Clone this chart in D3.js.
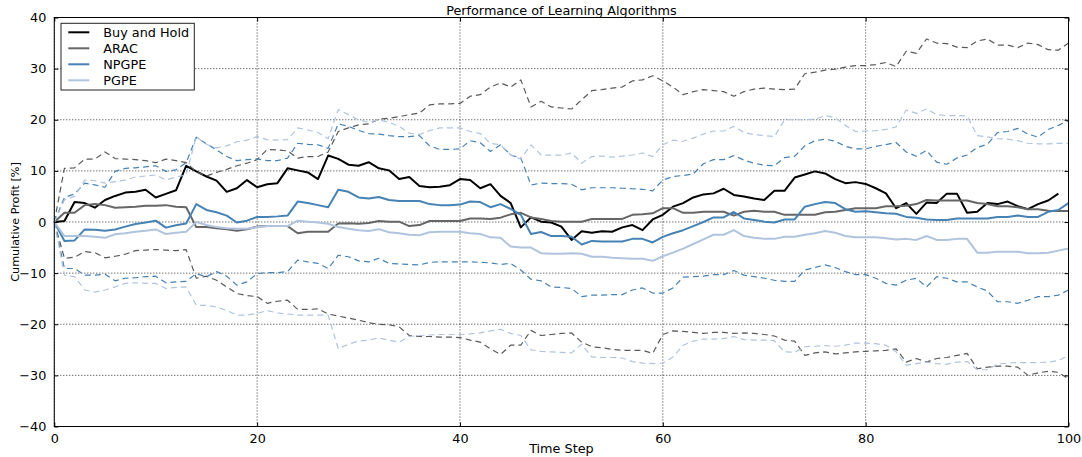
<!DOCTYPE html>
<html>
<head>
<meta charset="utf-8">
<script src="https://cdn.jsdelivr.net/npm/d3@7/dist/d3.min.js"></script>
<style>
  html, body { margin: 0; padding: 0; background: #fff; }
  svg { display: block; font-family: "DejaVu Sans", sans-serif; }
</style>
</head>
<body>
<svg id="chart" width="1082" height="457"></svg>
<script>
// ---- data ----
const title = "Performance of Learning Algorithms";
const xLabel = "Time Step";
const yLabel = "Cumulative Profit [%]";
const xTicks = [0, 20, 40, 60, 80, 100];
const yTicks = [-40, -30, -20, -10, 0, 10, 20, 30, 40];
const seriesNames = ["Buy and Hold", "ARAC", "NPGPE", "PGPE"];

const buyHold = [0,0.2,3.9,3.7,2.8,4.3,5.1,5.75,5.9,6.3,4.8,5.5,6.2,11.0,9.9,8.9,8.1,5.9,6.6,8.2,
  6.8,7.4,7.6,10.5,10.1,9.7,8.4,13.0,12.35,11.2,11.0,11.7,10.5,10.1,8.4,8.8,7.06,6.8,6.9,7.2,
  8.4,8.2,6.6,7.4,5.1,3.7,-1.05,0.9,0.07,-0.1,-0.9,-3.5,-1.8,-2.1,-1.8,-1.9,-1.05,-0.6,-1.6,0.5,
  1.4,3.0,3.7,4.8,5.4,5.6,6.5,5.3,5.0,4.6,4.3,6.1,6.1,8.7,9.3,9.9,9.5,8.4,7.6,7.8,
  7.45,6.6,5.6,2.7,3.7,1.6,3.8,3.7,5.55,5.55,1.8,2.0,3.7,3.5,4.0,3.1,2.5,3.5,4.2,5.55];

const arac = [0,1.8,1.8,3.3,3.5,3.3,2.8,2.9,3.0,3.2,3.2,3.3,3.0,2.9,-1.0,-1.0,-1.2,-1.4,-1.7,-1.4,
  -0.9,-0.8,-0.8,-0.8,-2.2,-1.9,-1.9,-1.9,-0.3,-0.25,-0.35,-0.2,0.2,0.06,0.06,-0.8,-0.6,0.2,0.2,0.2,
  0.2,0.7,0.7,0.6,0.85,1.5,1.8,0.9,0.6,0.2,0.06,0.06,0.06,0.6,0.6,0.6,0.6,1.4,1.5,1.7,
  2.7,2.7,1.8,1.8,2.0,2.0,2.0,1.25,2.0,2.2,2.0,2.0,1.4,1.4,1.4,1.4,1.9,2.0,2.35,2.7,
  2.7,2.7,3.1,3.1,3.2,3.5,4.3,4.2,4.2,4.2,4.2,3.7,3.5,3.1,3.1,2.9,2.5,2.5,2.2,2.15,2.15];
const aracUpper = [0,10.5,10.6,12.3,12.3,13.7,12.4,12.3,12.2,12.0,11.6,12.3,12.0,11.6,9.8,9.0,9.7,10.3,11.0,11.5,
  12.2,14.2,14.1,13.9,12.5,12.8,12.8,13.7,17.7,18.4,19.0,19.2,20.1,20.3,20.6,21.0,21.3,22.9,23.1,23.1,
  23.2,24.6,24.9,26.4,27.2,26.4,27.8,22.5,23.6,22.5,22.3,22.1,23.9,25.7,25.9,26.2,26.4,27.6,27.8,28.6,
  27.6,26.4,24.9,25.5,25.9,25.7,25.5,24.6,25.5,26.0,26.2,26.0,25.9,26.0,29.0,29.3,29.7,29.9,30.3,30.6,
  30.6,30.8,31.2,30.4,33.4,33.0,35.8,35.0,34.9,34.2,34.1,35.4,35.8,34.6,34.6,34.1,35.0,34.7,33.7,33.6,35.0];
const aracLower = [0,-7.1,-6.9,-5.8,-6.0,-7.0,-6.7,-6.3,-5.6,-5.5,-5.4,-5.5,-5.6,-5.4,-11.0,-10.6,-11.4,-12.7,-14.0,-14.4,
  -14.6,-15.9,-15.5,-15.3,-17.1,-17.1,-17.0,-18.0,-18.4,-18.8,-19.2,-19.7,-20.0,-20.1,-20.5,-22.2,-22.4,-22.4,-22.5,-22.5,
  -22.6,-23.1,-23.5,-24.8,-25.9,-24.1,-24.1,-21.2,-22.2,-22.0,-21.8,-21.7,-23.5,-24.4,-24.6,-24.9,-25.1,-25.1,-25.1,-25.7,
  -22.0,-21.3,-21.4,-21.6,-21.8,-21.6,-21.6,-21.8,-21.7,-21.8,-22.0,-22.3,-23.1,-23.3,-26.1,-25.6,-25.4,-25.8,-25.6,-25.4,
  -25.3,-25.2,-25.1,-24.8,-27.4,-26.7,-27.4,-26.7,-26.5,-26.1,-25.7,-28.7,-28.4,-28.2,-28.2,-28.4,-30.0,-29.5,-29.2,-29.4,-30.7];

const npgpe = [0,-3.7,-3.6,-1.45,-1.5,-1.7,-1.45,-0.9,-0.4,-0.1,0.26,-1.1,-0.65,-0.3,3.5,2.35,1.9,1.25,-0.1,0.26,
  1.0,1.0,1.1,1.25,4.0,3.7,3.3,2.9,6.3,5.9,4.8,4.6,4.9,4.3,4.1,4.1,4.1,3.5,3.3,3.3,
  3.4,4.0,3.9,2.9,3.5,2.55,1.4,-2.35,-1.95,-2.75,-2.75,-2.9,-4.4,-3.7,-3.8,-3.8,-3.8,-3.3,-3.3,-4.0,
  -2.9,-2.2,-1.6,-0.8,0.0,0.9,0.9,1.96,0.7,0.4,0.07,-0.1,0.5,0.5,3.0,3.5,3.9,3.7,2.5,2.0,
  2.1,1.9,1.7,1.6,1.0,0.85,0.5,0.4,0.4,0.7,0.7,0.7,0.7,1.0,1.0,1.25,1.0,1.0,2.0,2.35,3.7];
const npgpeUpper = [0,4.8,5.5,7.6,7.25,6.8,9.9,10.5,10.6,10.8,11.0,9.9,10.2,11.6,16.6,15.3,14.1,12.8,12.0,12.2,
  12.35,12.0,12.0,12.5,15.4,15.2,15.1,14.4,19.2,18.7,17.9,17.3,17.2,16.9,16.7,16.7,16.9,14.9,14.2,14.2,
  14.3,15.9,15.5,13.8,15.1,13.1,12.5,7.25,7.6,7.5,7.5,7.4,6.3,6.7,6.7,6.7,6.6,6.5,6.4,6.1,
  8.2,8.9,9.1,9.4,11.4,12.2,12.2,13.0,12.1,11.5,11.1,11.0,12.6,12.85,14.9,15.9,16.2,15.8,14.8,14.3,
  14.3,14.8,15.15,15.55,13.7,12.85,14.0,11.7,11.3,12.5,13.1,14.6,15.2,17.5,17.7,18.3,17.2,16.6,18.1,18.9,19.8];
const npgpeLower = [0,-9.1,-9.1,-10.4,-10.4,-10.2,-11.5,-11.0,-10.9,-10.7,-10.6,-11.9,-11.7,-11.6,-10.1,-10.7,-9.7,-10.6,-12.35,-11.7,
  -10.1,-9.9,-9.9,-9.7,-7.45,-7.8,-8.1,-9.1,-6.5,-6.8,-7.6,-7.8,-7.1,-8.1,-8.2,-8.3,-8.4,-7.9,-7.8,-7.8,
  -7.8,-7.8,-7.9,-8.0,-8.3,-8.1,-9.4,-11.2,-11.5,-12.7,-12.8,-13.0,-14.6,-14.3,-14.3,-14.2,-14.2,-13.3,-12.9,-13.9,
  -13.9,-12.9,-10.8,-10.7,-10.6,-10.3,-10.3,-9.5,-10.4,-10.7,-11.0,-11.4,-11.6,-11.6,-9.4,-8.9,-8.4,-8.9,-9.7,-10.3,
  -10.3,-11.0,-12.0,-12.35,-11.4,-11.0,-12.7,-10.7,-11.0,-11.7,-11.7,-12.7,-13.5,-15.6,-15.6,-15.9,-15.3,-14.6,-14.6,-14.3,-13.3];

const pgpe = [0,-2.75,-2.75,-2.75,-2.9,-3.1,-2.4,-2.2,-1.9,-1.7,-1.45,-2.35,-2.1,-1.9,0,-0.6,-1.0,-1.2,-1.3,-1.3,
  -1.0,-0.8,-0.8,-0.8,0.26,0.06,-0.1,-0.35,-1.0,-1.3,-1.6,-1.75,-1.4,-2.0,-2.2,-2.5,-2.6,-2.0,-1.9,-1.9,
  -1.9,-2.2,-2.35,-3.0,-3.1,-4.8,-5.0,-5.0,-6.1,-6.2,-6.2,-6.1,-6.2,-6.8,-6.8,-7.0,-7.1,-7.2,-7.2,-7.6,
  -6.7,-6.0,-5.2,-4.3,-3.4,-2.5,-2.5,-1.6,-2.75,-3.1,-3.3,-3.3,-2.9,-2.9,-2.5,-2.2,-1.75,-2.1,-2.75,-3.0,
  -3.0,-3.0,-3.2,-3.4,-3.3,-3.5,-2.75,-3.5,-3.5,-3.3,-3.3,-6.0,-6.0,-5.8,-5.8,-5.8,-6.1,-6.1,-6.0,-5.6,-5.2];
const pgpeUpper = [0,4.3,5.0,8.2,8.1,7.6,7.9,8.2,8.8,9.0,9.2,8.2,8.8,9.2,16.7,15.2,14.5,14.9,15.7,16.0,
  16.7,16.1,16.0,16.1,18.4,18.0,17.5,16.3,22.0,21.0,20.0,19.5,20.0,19.5,18.7,17.4,17.1,17.9,18.4,18.4,
  18.4,17.7,17.3,15.4,15.1,13.1,12.3,15.1,13.1,13.1,13.1,13.5,11.5,12.8,12.9,12.7,12.9,13.1,13.5,12.8,
  15.1,16.0,15.8,16.4,17.2,17.8,17.8,18.7,17.5,17.1,16.9,16.7,20.0,20.0,20.0,20.1,20.8,20.4,18.9,17.7,
  17.8,17.85,18.1,18.6,21.9,21.25,22.1,21.0,20.8,20.8,20.75,16.9,16.65,16.3,16.2,15.9,15.4,15.3,15.3,15.4,15.35];
const pgpeLower = [0,-10.4,-10.7,-13.3,-13.7,-13.3,-12.7,-12.0,-11.9,-12.0,-12.0,-13.0,-12.8,-12.7,-16.3,-16.3,-16.65,-17.3,-18.2,-18.2,
  -17.9,-17.3,-17.8,-18.0,-18.2,-18.2,-18.2,-18.2,-24.8,-23.9,-23.3,-23.1,-22.7,-23.1,-23.5,-22.4,-22.2,-22.1,-22.0,-22.0,
  -22.0,-21.9,-21.7,-21.3,-21.0,-21.8,-22.2,-25.0,-25.3,-25.4,-25.5,-25.6,-23.9,-26.4,-26.5,-26.5,-26.6,-27.3,-27.6,-27.7,
  -27.6,-26.4,-24.1,-23.3,-22.9,-22.9,-22.8,-22.4,-23.0,-23.1,-23.1,-23.2,-25.4,-25.5,-24.4,-24.3,-24.2,-24.3,-24.1,-23.7,
  -23.7,-23.8,-24.1,-25.4,-28.0,-27.7,-27.4,-27.7,-27.8,-27.4,-27.3,-28.9,-28.9,-27.8,-27.6,-27.5,-27.5,-27.5,-27.4,-27.1,-26.1];

// ---- layout ----
const svg = d3.select("#chart");
const L = 54.3, R = 1068.5, T = 17.5, B = 426.5;
const x = d3.scaleLinear().domain([0, 100]).range([L, R]);
const y = d3.scaleLinear().domain([-40, 40]).range([B, T]);
const FS = 12.8;

const colors = { bh: "#000000", arac: "#666666", aracDash: "#5a5a5a", np: "#4682b4", pg: "#b0c4de" };

// grid
const grid = svg.append("g");
grid.selectAll("line.gx").data(xTicks).enter().append("line")
  .attr("x1", d => x(d)).attr("x2", d => x(d)).attr("y1", T).attr("y2", B)
  .attr("stroke", "#000").attr("stroke-width", 0.8).attr("stroke-dasharray", "1,2");
grid.selectAll("line.gy").data(yTicks).enter().append("line")
  .attr("y1", d => y(d)).attr("y2", d => y(d)).attr("x1", L).attr("x2", R)
  .attr("stroke", "#000").attr("stroke-width", 0.8).attr("stroke-dasharray", "1,2");

const line = d3.line().x((d, i) => x(i)).y(d => y(d));
const plot = svg.append("g");
function draw(data, color, width, dash) {
  plot.append("path").datum(data).attr("d", line)
    .attr("fill", "none").attr("stroke", color).attr("stroke-width", width)
    .attr("stroke-linejoin", "round")
    .attr("stroke-dasharray", dash || null);
}
draw(buyHold, colors.bh, 2);
draw(arac, colors.arac, 2);
draw(aracUpper, colors.aracDash, 1.2, "6,4");
draw(aracLower, colors.aracDash, 1.2, "6,4");
draw(npgpe, colors.np, 2);
draw(npgpeUpper, colors.np, 1.2, "6,4");
draw(npgpeLower, colors.np, 1.2, "6,4");
draw(pgpe, colors.pg, 2);
draw(pgpeUpper, colors.pg, 1.2, "6,4");
draw(pgpeLower, colors.pg, 1.2, "6,4");

// frame
svg.append("rect").attr("x", L).attr("y", T).attr("width", R - L).attr("height", B - T)
  .attr("fill", "none").attr("stroke", "#000").attr("stroke-width", 1);

// axes (ticks inward, all four sides)
const fmt = d => (d < 0 ? "\u2212" + Math.abs(d) : String(d));
const axB = d3.axisBottom(x).tickValues(xTicks).tickSize(-4).tickPadding(7).tickFormat(fmt);
const axT = d3.axisTop(x).tickValues(xTicks).tickSize(-4).tickFormat("");
const axLft = d3.axisLeft(y).tickValues(yTicks).tickSize(-4).tickPadding(8).tickFormat(fmt);
const axRgt = d3.axisRight(y).tickValues(yTicks).tickSize(-4).tickFormat("");
function styleAxis(g) {
  g.select(".domain").remove();
  g.selectAll(".tick line").attr("stroke", "#000");
  g.selectAll("text").attr("font-size", FS).attr("fill", "#000").attr("font-family", "DejaVu Sans");
}
svg.append("g").attr("transform", `translate(0,${B})`).call(axB).call(styleAxis);
svg.append("g").attr("transform", `translate(0,${T})`).call(axT).call(styleAxis);
svg.append("g").attr("transform", `translate(${L},0)`).call(axLft).call(styleAxis);
svg.append("g").attr("transform", `translate(${R},0)`).call(axRgt).call(styleAxis);

// titles
svg.append("text").attr("x", (L + R) / 2).attr("y", 14.5).attr("text-anchor", "middle")
  .attr("font-size", FS).text(title);
svg.append("text").attr("x", (L + R) / 2).attr("y", 452.5).attr("text-anchor", "middle")
  .attr("font-size", FS).text(xLabel);
svg.append("text").attr("transform", `translate(18.5,${(T + B) / 2}) rotate(-90)`)
  .attr("text-anchor", "middle").attr("font-size", 11.2).text(yLabel);

// legend
const lg = svg.append("g");
lg.append("rect").attr("x", 61).attr("y", 23.3).attr("width", 133.3).attr("height", 66.7)
  .attr("fill", "#fff").attr("stroke", "#222").attr("stroke-width", 1);
const legColors = [colors.bh, colors.arac, colors.np, colors.pg];
seriesNames.forEach((n, i) => {
  const cy = 32.3 + i * 16;
  lg.append("line").attr("x1", 68.3).attr("x2", 89.3).attr("y1", cy).attr("y2", cy)
    .attr("stroke", legColors[i]).attr("stroke-width", 2);
  lg.append("text").attr("x", 103.3).attr("y", cy + 4.6).attr("font-size", FS).text(n);
});
</script>
</body>
</html>
